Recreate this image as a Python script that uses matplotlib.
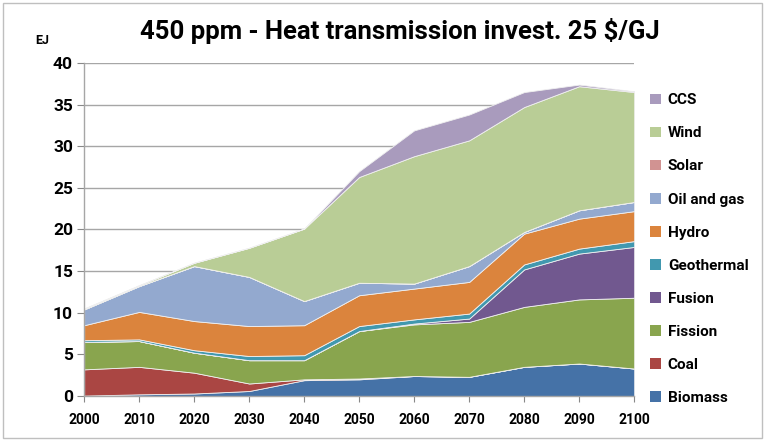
import numpy as np
import matplotlib
matplotlib.use('Agg')
import matplotlib.pyplot as plt
import matplotlib.patches as mpatches

plt.rcParams['font.family'] = ['Roboto', 'DejaVu Sans']
plt.rcParams['font.weight'] = 'bold'

# Data (EJ)
years = [2000, 2010, 2020, 2030, 2040, 2050, 2060, 2070, 2080, 2090, 2100]
biomass    = [0.05, 0.2, 0.3, 0.6, 1.9, 2.0, 2.4, 2.3, 3.5, 3.9, 3.3]
coal       = [3.15, 3.3, 2.5, 0.9, 0.1, 0.1, 0.0, 0.0, 0.0, 0.0, 0.0]
fission    = [3.3, 3.1, 2.4, 2.8, 2.3, 5.7, 6.2, 6.6, 7.2, 7.7, 8.5]
fusion     = [0.0, 0.0, 0.0, 0.0, 0.0, 0.0, 0.1, 0.4, 4.5, 5.5, 6.1]
geothermal = [0.2, 0.2, 0.3, 0.5, 0.6, 0.6, 0.5, 0.6, 0.6, 0.6, 0.7]
hydro      = [1.8, 3.3, 3.5, 3.6, 3.6, 3.7, 3.7, 3.8, 3.7, 3.6, 3.6]
oil_gas    = [1.9, 3.1, 6.6, 5.9, 2.9, 1.5, 0.6, 1.9, 0.2, 1.0, 1.1]
solar      = [0.0, 0.0, 0.0, 0.0, 0.0, 0.0, 0.0, 0.0, 0.0, 0.0, 0.0]
wind       = [0.1, 0.1, 0.4, 3.5, 8.7, 12.7, 15.3, 15.1, 15.0, 14.9, 13.2]
ccs        = [0.0, 0.0, 0.0, 0.0, 0.0, 0.7, 3.1, 3.1, 1.8, 0.2, 0.1]

labels = ['Biomass', 'Coal', 'Fission', 'Fusion', 'Geothermal', 'Hydro',
          'Oil and gas', 'Solar', 'Wind', 'CCS']
colors = ['#4572A7', '#AA4643', '#89A54E', '#71588F', '#4198AF', '#DB843D',
          '#93A9CF', '#D19392', '#B9CD96', '#A99BBD']
series = [biomass, coal, fission, fusion, geothermal, hydro, oil_gas, solar, wind, ccs]

fig = plt.figure(figsize=(7.65, 4.40), dpi=100)
ax = fig.add_axes([0.110, 0.100, 0.719, 0.757])

ax.stackplot(years, *series, colors=colors, edgecolor='#f0f0f0',
             linewidth=0.6, zorder=2)

ax.set_xlim(2000, 2100)
ax.set_ylim(0, 40)
ax.set_xticks(years)
ax.set_yticks(np.arange(0, 41, 5))
ax.tick_params(axis='x', labelsize=10, length=4, color='#888888', pad=8)
ax.tick_params(axis='y', labelsize=12.5, length=5, color='#888888', pad=3)
for lab in ax.get_xticklabels() + ax.get_yticklabels():
    lab.set_fontweight('bold')

ax.grid(True, axis='y', color='#a6a6a6', linewidth=1.0, zorder=0)
ax.set_axisbelow(True)
for side in ['top', 'right']:
    ax.spines[side].set_visible(False)
for side in ['left', 'bottom']:
    ax.spines[side].set_color('#a6a6a6')
    ax.spines[side].set_linewidth(1.0)

fig.text(0.523, 0.930, '450 ppm - Heat transmission invest. 25 $/GJ',
         ha='center', va='center', fontsize=18.5, fontweight='bold')
fig.text(0.055, 0.908, 'EJ', ha='center', va='center', fontsize=9, fontweight='bold')

# Legend, top entry CCS down to Biomass
handles = [mpatches.Patch(facecolor=c, edgecolor='none', label=l)
           for l, c in zip(labels[::-1], colors[::-1])]
fig.legend(handles=handles, loc='upper left', bbox_to_anchor=(0.850, 0.788),
           frameon=False, handlelength=0.7, handleheight=0.7,
           handletextpad=0.45, labelspacing=1.25, borderaxespad=0,
           borderpad=0, prop={'weight': 'bold', 'size': 11})

# Chart frame
fig.patches.append(mpatches.Rectangle((0.004, 0.004), 0.992, 0.99, fill=False,
                                      edgecolor='#bfbfbf', linewidth=1.0,
                                      transform=fig.transFigure))

fig.savefig('out.png', dpi=100)
